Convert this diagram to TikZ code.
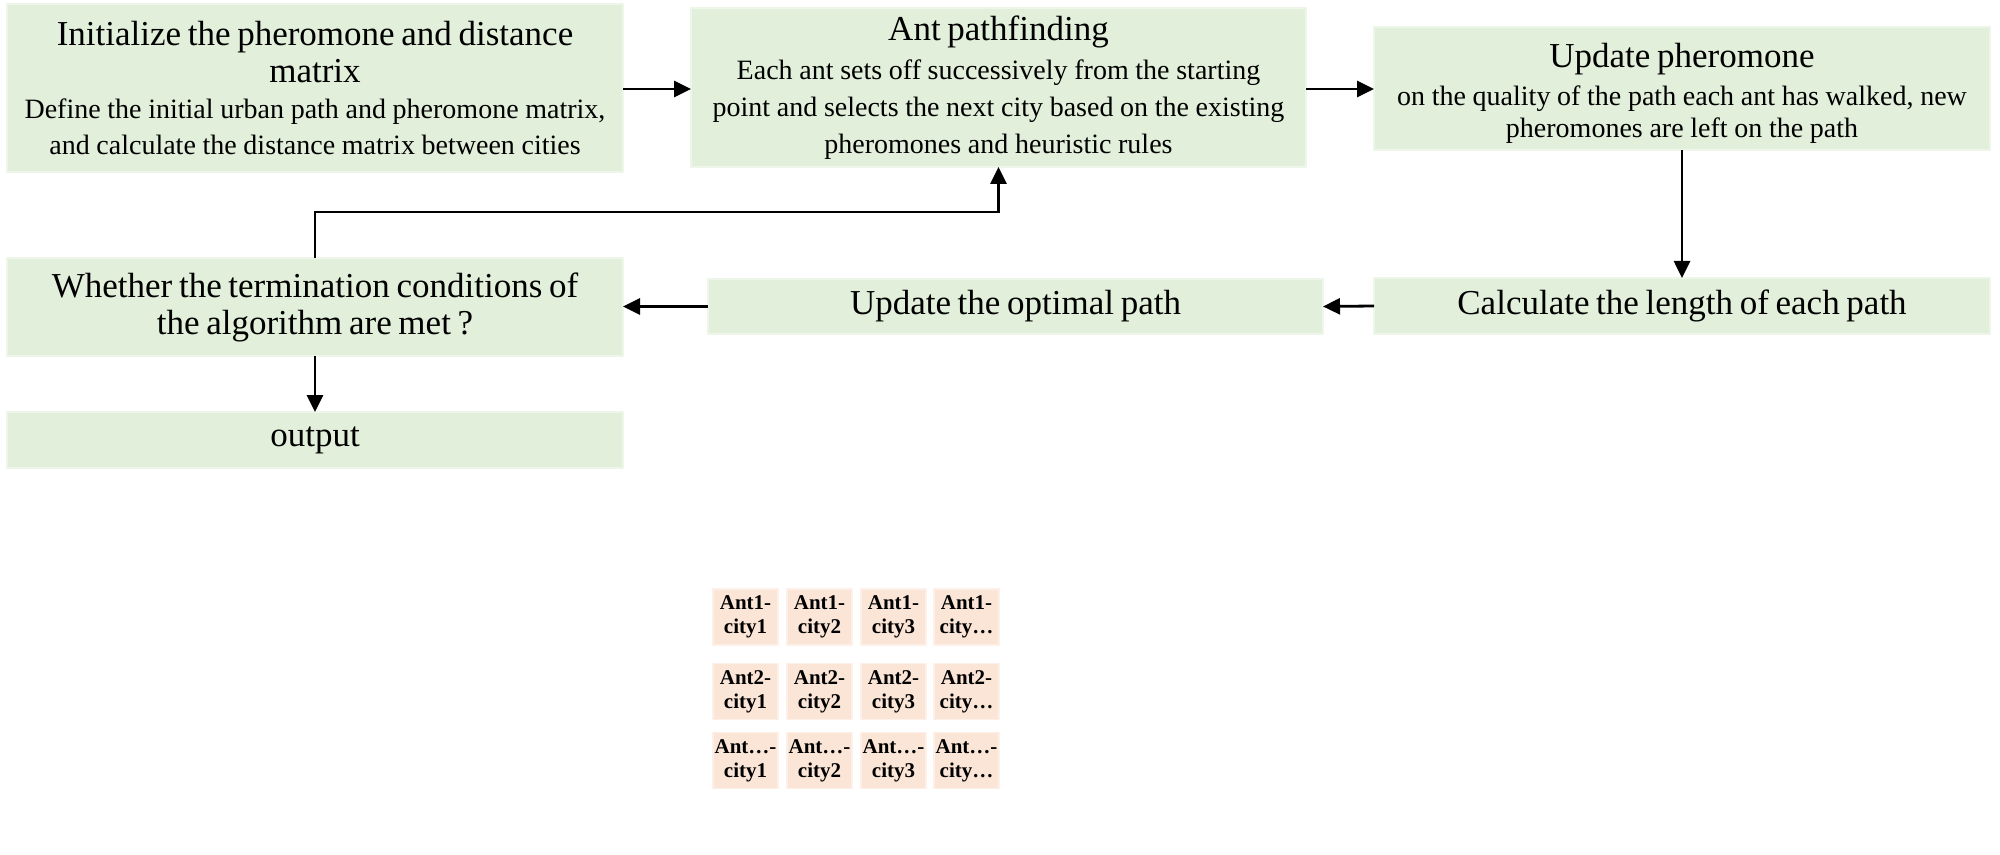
\documentclass[tikz,border=0pt]{standalone}
\usepackage{fontspec}
\setmainfont{Liberation Serif}
\usetikzlibrary{arrows.meta}
\definecolor{boxgreen}{HTML}{E2EFDA}
\definecolor{boxedge}{HTML}{EDF6E8}
\definecolor{antfill}{HTML}{FBE5D6}
\definecolor{antedge}{HTML}{FDF0E8}
\newcommand\myTitleFont{\fontsize{17.5}{18.5}\selectfont}
\newcommand\mySubFont{\fontsize{14}{18}\selectfont}
\begin{document}
\begin{tikzpicture}[x=0.5pt,y=-0.5pt,
  gbox/.style={fill=boxgreen, draw=boxedge, line width=1pt, inner sep=0pt, outer sep=0pt, align=center},
  antcell/.style={fill=antfill, draw=antedge, line width=0.8pt, inner sep=0pt, outer sep=0pt, align=center,
    minimum width=32.5pt, minimum height=28pt, font=\bfseries\fontsize{10.5}{12}\selectfont},
  arr/.style={line width=1.4pt, -{Triangle[length=8.5pt,width=8pt]}}]
\useasboundingbox (0,0) rectangle (2000,855);
\fill[white] (0,0) rectangle (2000,855);

\node[gbox, text width=308pt, minimum height=84pt] (init) at (315,88)
  {\myTitleFont Initialize the pheromone and distance\\matrix\par\vspace{0pt}
   \mySubFont Define the initial urban path and pheromone matrix,\\and calculate the distance matrix between cities\par};
\node[gbox, text width=307.5pt, minimum height=79.5pt] (ant) at (998.5,87.5)
  {\myTitleFont Ant pathfinding\par\vspace{1pt}
   {\fontsize{14}{18.5}\selectfont Each ant sets off successively from the starting\\point and selects the next city based on the existing\\pheromones and heuristic rules\par}};
\node[gbox, text width=308pt, minimum height=61.5pt] (upd) at (1682,88.5) {};
\node[align=center, text width=308pt, inner sep=0pt] (updtext) at ([yshift=-2.5pt]upd.center)
  {\myTitleFont Update pheromone\par\vspace{3.1pt}
   {\fontsize{14}{16}\selectfont on the quality of the path each ant has walked, new\\pheromones are left on the path\par}};
\node[gbox, text width=308pt, minimum height=28pt] (calc) at (1682,306)
  {\myTitleFont Calculate the length of each path\par};
\node[gbox, text width=307.5pt, minimum height=27.5pt] (opt) at (1015.5,306.5)
  {\myTitleFont Update the optimal path\par};
\node[gbox, text width=308pt, minimum height=49pt] (cond) at (315,307)
  {\myTitleFont Whether the termination conditions of\\the algorithm are met ?\par};
\node[gbox, text width=308pt, minimum height=28pt] (out) at (315,440)
  {\myTitleFont output\par};

\coordinate (fbturn) at (0,212);

\draw[arr] (init.east |- 0,89) -- (ant.west |- 0,89);
\draw[arr] (ant.east |- 0,89) -- (upd.west |- 0,89);
\draw[arr] (upd.south) -- (calc.north);
\draw[arr] (calc.west) -- (opt.east);
\draw[arr] (opt.west) -- (cond.east |- opt.west);
\draw[arr] (cond.north) -- (cond.north |- fbturn) -- (ant.south |- fbturn) -- (ant.south);
\draw[arr] (cond.south) -- (out.north);

\foreach \ry/\an [count=\r] in {617/1, 691.5/2, 760.5/…} {
  \foreach \cx/\cn [count=\c] in {745.5/1, 819.5/2, 893.5/3, 966.5/…} {
    \node[antcell] (a\r\c) at (\cx,\ry) {Ant\an-\\city\cn};
  }
}
\end{tikzpicture}
\end{document}
